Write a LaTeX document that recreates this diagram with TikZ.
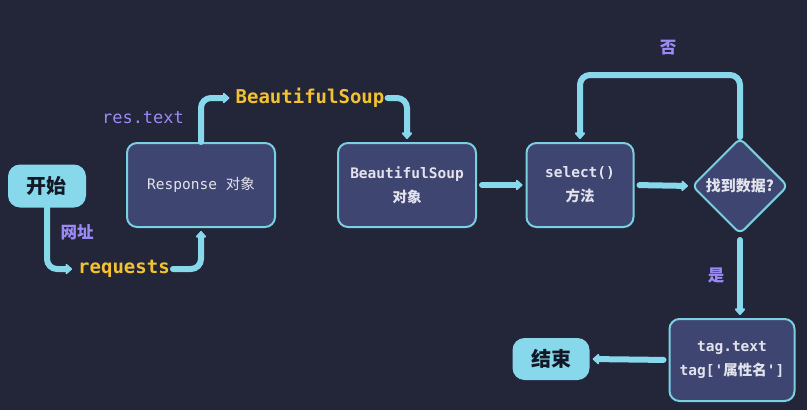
\documentclass[tikz,border=0pt]{standalone}
\usepackage{fontspec}
\setmonofont{DejaVu Sans Mono}
\newfontfamily\cjk{Noto Sans CJK SC}
\usetikzlibrary{shapes.geometric,arrows.meta}
\definecolor{bg}{HTML}{232539}
\definecolor{boxfill}{HTML}{3E4570}
\definecolor{boxline}{HTML}{7ACFE0}
\definecolor{arrowc}{HTML}{88D8EC}
\definecolor{purp}{HTML}{9B8AF5}
\definecolor{yell}{HTML}{F2C230}
\definecolor{lighttext}{HTML}{E2E3EC}
\definecolor{darktext}{HTML}{141726}
\tikzset{
  terminal/.style={rectangle, rounded corners=12pt, fill=arrowc, text=darktext,
    minimum width=78pt, minimum height=43pt, inner sep=0pt,
    font=\cjk\bfseries\fontsize{20}{24}\selectfont},
  proc/.style={rectangle, rounded corners=10pt, draw=boxline, line width=2pt, fill=boxfill,
    text=lighttext, minimum height=84pt, inner sep=2pt, align=center,
    font=\ttfamily\fontsize{14.5}{24}\selectfont},
  decision/.style={diamond, rounded corners=6pt, draw=boxline, line width=2pt, fill=boxfill,
    text=lighttext, minimum width=96pt, minimum height=96pt, inner sep=0pt,
    font=\cjk\bfseries\fontsize{15}{18}\selectfont},
  codelabel/.style={text=yell, inner sep=3pt, font=\ttfamily\bfseries\fontsize{19}{22}\selectfont},
  edgelabel/.style={text=purp, inner sep=0pt, font=\cjk\bfseries\fontsize{16.5}{20}\selectfont},
  monolabel/.style={text=purp, inner sep=0pt, font=\ttfamily\fontsize{17}{20}\selectfont},
  arr/.style={draw=arrowc, line width=6pt, line cap=round, rounded corners=10pt,
    -{Triangle[length=7pt,width=12pt,round]}, shorten >=3pt},
  gap/.style={shorten <=5pt}
}
\begin{document}
\begin{tikzpicture}[x=1pt,y=-1pt]
\fill[bg] (0,0) rectangle (807,410);
\useasboundingbox (0,0) rectangle (807,410);

\node[terminal] (start) at (47,186) {开始};
\node[proc, minimum width=148pt] (resp) at (201,185) {Response {\cjk 对象}};
\node[proc, minimum width=138pt, font=\ttfamily\bfseries\fontsize{14.5}{24}\selectfont] (bs) at (407,185) {BeautifulSoup\\{\cjk 对象}};
\node[proc, minimum width=107pt, font=\ttfamily\bfseries\fontsize{14.5}{24}\selectfont] (sel) at (580,185) {select()\\{\cjk 方法}};
\node[decision] (dia) at (740,186) {找到数据?};
\node[proc, minimum width=125pt, minimum height=82pt, font=\ttfamily\bfseries\fontsize{14.5}{24}\selectfont] (tag) at (732,360) {tag.text\\tag['{\cjk 属性名}']};
\node[terminal, minimum width=77pt, minimum height=42pt] (end) at (551,359) {结束};

\node[codelabel] (req) at (124,269) {requests};
\node[codelabel] (bsl) at (310,98) {BeautifulSoup};
\node[monolabel] (rt) at (143,118) {res.text};
\node[edgelabel] (url) at (77,232) {网址};
\node[edgelabel] (no) at (668,48) {否};
\node[edgelabel] (yes) at (716,275) {是};

\coordinate (looptop) at (660,75);

\draw[arr] (start.south) |- (req.west);
\draw[arr] (req.east) -| (resp.south);
\draw[arr] (resp.north) |- (bsl.west);
\draw[arr] (bsl.east) -| (bs.north);
\draw[arr, gap] (bs.east) -- (sel.west);
\draw[arr, gap] (sel.east) -- (dia.west);
\draw[arr] (dia.north) |- (looptop) -| (sel.north);
\draw[arr, gap] (dia.south) -- (tag.north -| dia.south);
\draw[arr, gap] (tag.west) -- (end.east);
\end{tikzpicture}
\end{document}
